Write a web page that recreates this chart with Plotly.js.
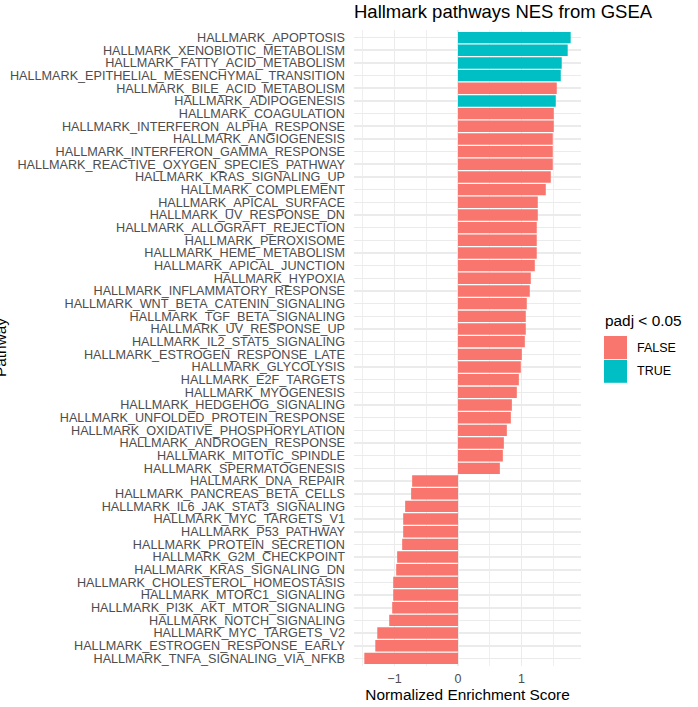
<!DOCTYPE html>
<html>
<head>
<meta charset="utf-8">
<script src="https://cdn.plot.ly/plotly-3.0.1.min.js"></script>
<style>html,body{margin:0;padding:0;background:#fff;}#chart{width:698px;height:707px;}</style>
</head>
<body>
<div id="chart"></div>
<script>
// Pathways listed top to bottom
const pathways = [
  "HALLMARK_APOPTOSIS","HALLMARK_XENOBIOTIC_METABOLISM","HALLMARK_FATTY_ACID_METABOLISM",
  "HALLMARK_EPITHELIAL_MESENCHYMAL_TRANSITION","HALLMARK_BILE_ACID_METABOLISM","HALLMARK_ADIPOGENESIS",
  "HALLMARK_COAGULATION","HALLMARK_INTERFERON_ALPHA_RESPONSE","HALLMARK_ANGIOGENESIS",
  "HALLMARK_INTERFERON_GAMMA_RESPONSE","HALLMARK_REACTIVE_OXYGEN_SPECIES_PATHWAY","HALLMARK_KRAS_SIGNALING_UP",
  "HALLMARK_COMPLEMENT","HALLMARK_APICAL_SURFACE","HALLMARK_UV_RESPONSE_DN","HALLMARK_ALLOGRAFT_REJECTION",
  "HALLMARK_PEROXISOME","HALLMARK_HEME_METABOLISM","HALLMARK_APICAL_JUNCTION","HALLMARK_HYPOXIA",
  "HALLMARK_INFLAMMATORY_RESPONSE","HALLMARK_WNT_BETA_CATENIN_SIGNALING","HALLMARK_TGF_BETA_SIGNALING",
  "HALLMARK_UV_RESPONSE_UP","HALLMARK_IL2_STAT5_SIGNALING","HALLMARK_ESTROGEN_RESPONSE_LATE",
  "HALLMARK_GLYCOLYSIS","HALLMARK_E2F_TARGETS","HALLMARK_MYOGENESIS","HALLMARK_HEDGEHOG_SIGNALING",
  "HALLMARK_UNFOLDED_PROTEIN_RESPONSE","HALLMARK_OXIDATIVE_PHOSPHORYLATION","HALLMARK_ANDROGEN_RESPONSE",
  "HALLMARK_MITOTIC_SPINDLE","HALLMARK_SPERMATOGENESIS","HALLMARK_DNA_REPAIR","HALLMARK_PANCREAS_BETA_CELLS",
  "HALLMARK_IL6_JAK_STAT3_SIGNALING","HALLMARK_MYC_TARGETS_V1","HALLMARK_P53_PATHWAY",
  "HALLMARK_PROTEIN_SECRETION","HALLMARK_G2M_CHECKPOINT","HALLMARK_KRAS_SIGNALING_DN",
  "HALLMARK_CHOLESTEROL_HOMEOSTASIS","HALLMARK_MTORC1_SIGNALING","HALLMARK_PI3K_AKT_MTOR_SIGNALING",
  "HALLMARK_NOTCH_SIGNALING","HALLMARK_MYC_TARGETS_V2","HALLMARK_ESTROGEN_RESPONSE_EARLY",
  "HALLMARK_TNFA_SIGNALING_VIA_NFKB"
];
const nes = [
  1.774, 1.727, 1.633, 1.618, 1.555, 1.539,
  1.508, 1.508, 1.492, 1.492, 1.492, 1.461,
  1.382, 1.256, 1.256, 1.240, 1.240, 1.240, 1.209, 1.146,
  1.130, 1.083, 1.067, 1.067, 1.052, 1.005,
  0.989, 0.958, 0.926, 0.848, 0.832, 0.769, 0.722,
  0.706, 0.659, -0.722, -0.738, -0.832, -0.863, -0.863,
  -0.879, -0.958, -0.973, -1.020, -1.020, -1.036,
  -1.083, -1.271, -1.302, -1.475
];
const padjSig = [
  true, true, true, true, false, true,
  false, false, false, false, false, false,
  false, false, false, false, false, false, false, false,
  false, false, false, false, false, false,
  false, false, false, false, false, false, false,
  false, false, false, false, false, false, false,
  false, false, false, false, false, false,
  false, false, false, false
];
const groups = ["FALSE", "TRUE"];
const groupColors = {"FALSE": "#F8766D", "TRUE": "#00BFC4"};
const legendTitle = "padj < 0.05";

const traces = groups.map(g => {
  const ys = [], xs = [];
  pathways.forEach((p, i) => {
    if (String(padjSig[i]).toUpperCase() === g) { ys.push(p); xs.push(nes[i]); }
  });
  return {
    type: "bar", orientation: "h", name: g, x: xs, y: ys,
    marker: {color: groupColors[g], line: {width: 0}},
    hoverinfo: "x+y", showlegend: false
  };
});

const xmin = Math.min(...nes), xmax = Math.max(...nes);
const pad = (xmax - xmin) * 0.05;
const font = "Liberation Sans, Arial, Helvetica, sans-serif";

// plot-area geometry (pixels) used to place the hand-built legend
const W = 698, H = 707, ML = 354, MR = 117, MT = 30, MB = 41;
const PW = W - ML - MR, PH = H - MT - MB;
const px = v => (v - ML) / PW;
const py = v => (H - MB - v) / PH;

const shapes = [], annotations = [];
// legend title
annotations.push({
  text: legendTitle, showarrow: false, xref: "paper", yref: "paper",
  x: px(603), y: py(321), xanchor: "left", yanchor: "middle",
  font: {family: font, size: 15.4, color: "#000000"}
});
const keyTop = 336, keyH = 23, keyW = 23, keyLeft = 604;
groups.forEach((g, k) => {
  const top = keyTop + k * (keyH + 0.8);
  shapes.push({
    type: "rect", xref: "paper", yref: "paper", layer: "above",
    x0: px(keyLeft), x1: px(keyLeft + keyW), y0: py(top + keyH), y1: py(top),
    fillcolor: groupColors[g], line: {width: 0}
  });
  annotations.push({
    text: g, showarrow: false, xref: "paper", yref: "paper",
    x: px(keyLeft + keyW + 8), y: py(top + keyH / 2), xanchor: "left", yanchor: "middle",
    font: {family: font, size: 12.5, color: "#000000"}
  });
});
// y-axis title (mostly clipped at the left edge, as in the reference)
annotations.push({
  text: "Pathway", textangle: -90, showarrow: false,
  xref: "paper", yref: "paper", x: px(0), y: 0.5,
  xanchor: "center", yanchor: "middle",
  font: {family: font, size: 15.4, color: "#000000"}
});

const layout = {
  width: W, height: H,
  margin: {l: ML, r: MR, t: MT, b: MB, pad: 0},
  paper_bgcolor: "#ffffff", plot_bgcolor: "#ffffff",
  barmode: "relative", bargap: 0.1,
  showlegend: false,
  font: {family: font, color: "#000000"},
  title: {
    text: "Hallmark pathways NES from GSEA",
    font: {family: font, size: 18.5, color: "#000000"},
    x: 0, xref: "paper", xanchor: "left",
    y: 1, yref: "container", yanchor: "top", pad: {t: 5}
  },
  xaxis: {
    range: [xmin - pad, xmax + pad],
    tick0: 0, dtick: 1, tickmode: "linear",
    showgrid: true, gridcolor: "#EBEBEB", gridwidth: 1.6,
    minor: {dtick: 0.5, tick0: 0, showgrid: true, gridcolor: "#EBEBEB", gridwidth: 0.8},
    zeroline: false, showline: false, ticks: "",
    tickfont: {family: font, size: 12.5, color: "#4D4D4D"},
    ticklabelstandoff: 3,
    title: {text: "Normalized Enrichment Score", font: {family: font, size: 15.4, color: "#000000"}, standoff: 4}
  },
  yaxis: {
    type: "category",
    categoryorder: "array", categoryarray: pathways,
    tickmode: "linear", tick0: 0, dtick: 1,
    range: [pathways.length - 1 + 0.6, -0.6],
    showgrid: true, gridcolor: "#EBEBEB", gridwidth: 1.6,
    zeroline: false, showline: false, ticks: "",
    tickfont: {family: font, size: 12.65, color: "#4D4D4D"},
    ticklabelstandoff: 8
  },
  shapes: shapes,
  annotations: annotations
};

Plotly.newPlot("chart", traces, layout, {displayModeBar: false, staticPlot: true});
</script>
</body>
</html>
